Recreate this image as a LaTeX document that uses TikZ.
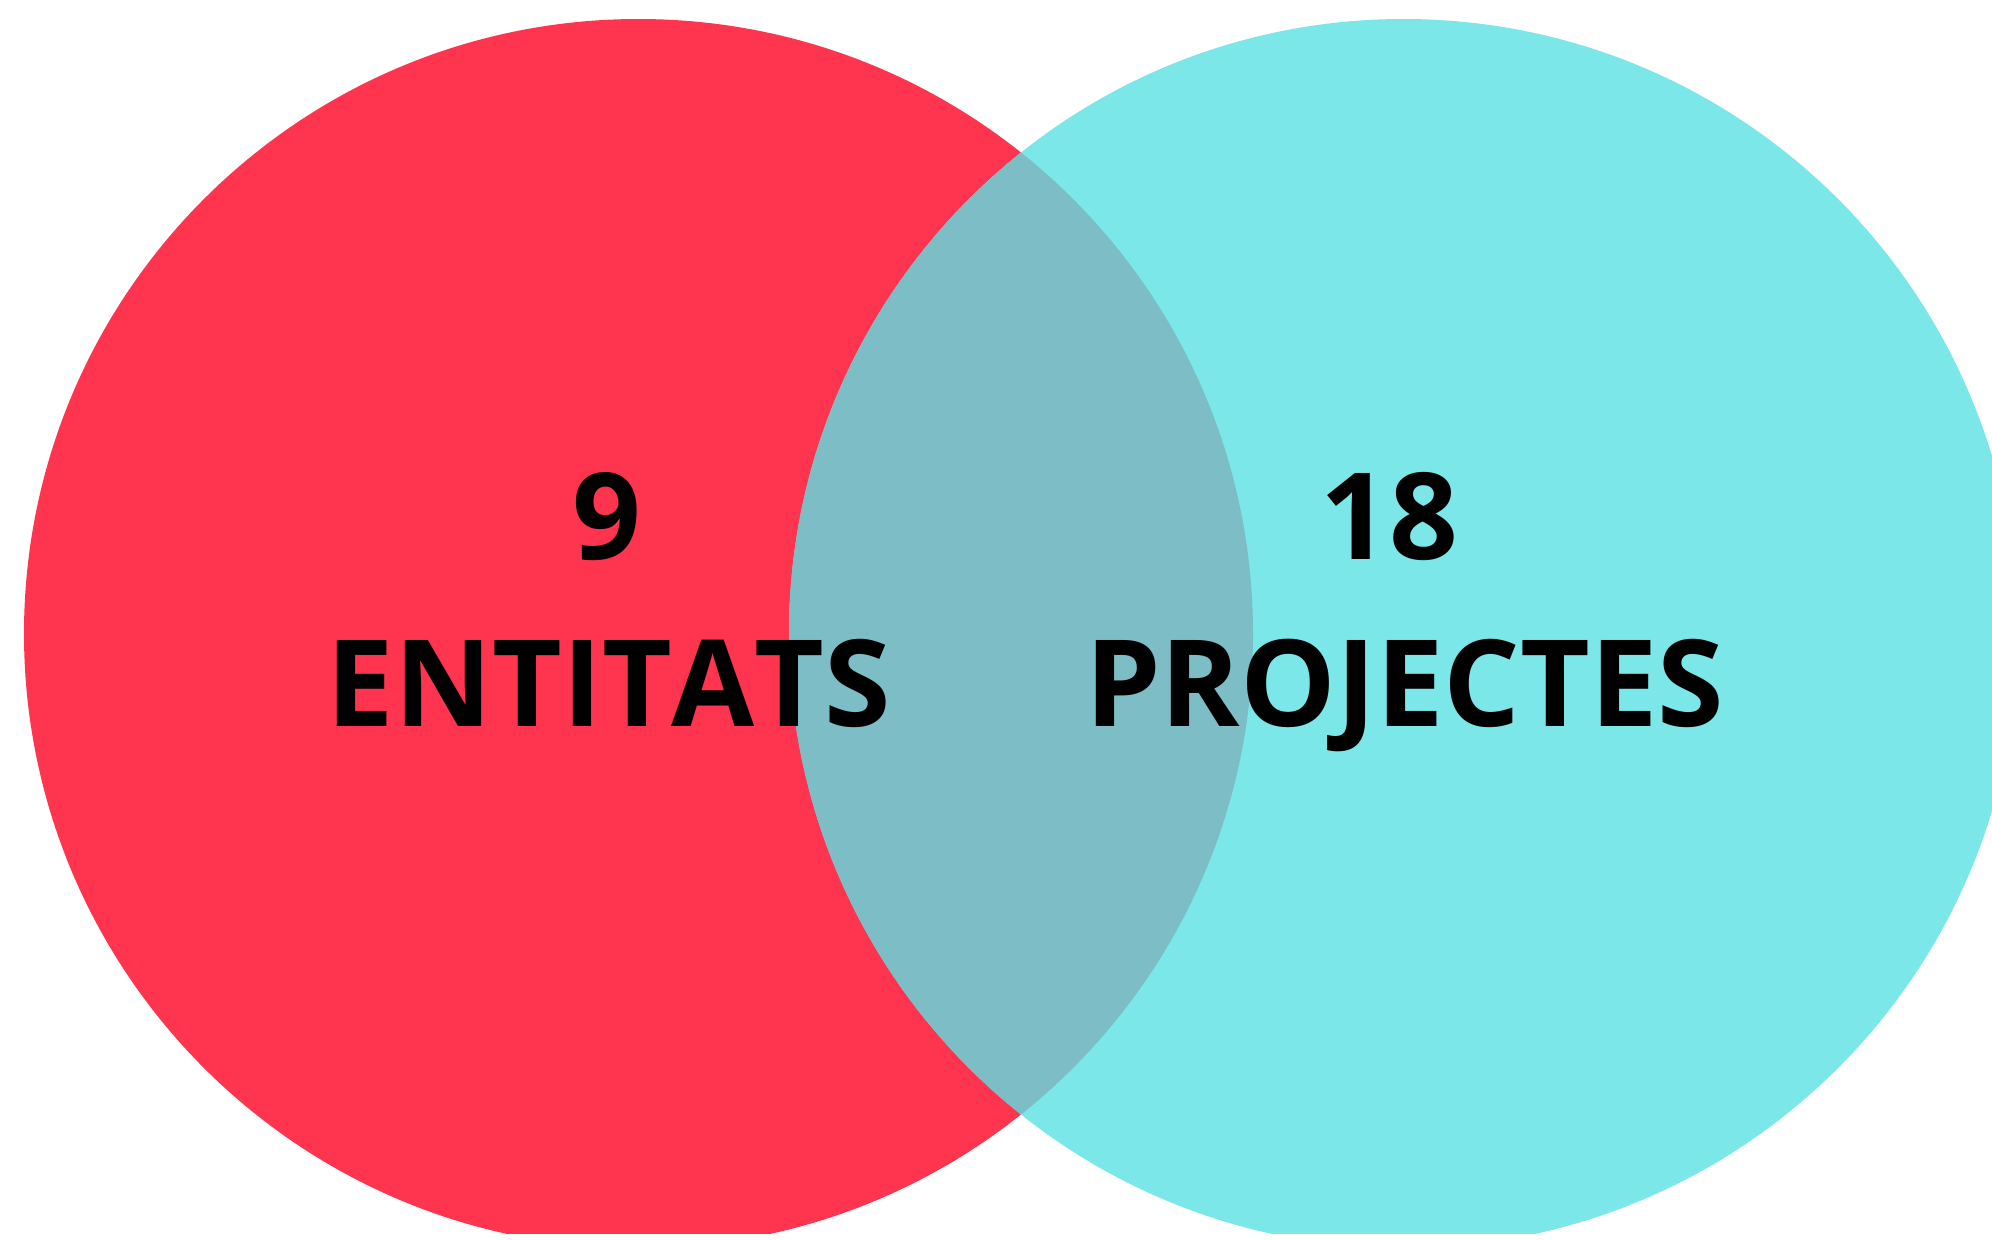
\documentclass[tikz,border=0pt]{standalone}
\usepackage{fontspec}
\setmainfont{Open Sans}[RawFeature={-kern}]
\usetikzlibrary{positioning}
\definecolor{VennRed}{HTML}{FF344F}
\definecolor{VennCyan}{HTML}{7BE7E9}
\definecolor{VennMix}{HTML}{7CBDC6}

\begin{document}
\begin{tikzpicture}[x=0.5pt,y=-0.5pt,every node/.style={font=\fontsize{60.25}{72}\selectfont\bfseries,inner sep=0pt,anchor=base}]
    \useasboundingbox (0,0) rectangle (1992,1239);
    \coordinate (entC) at (638.5,633.5);
    \coordinate (projC) at (1403.5,633.5);
    \begin{scope}
      \clip (0,0) rectangle (1992,1233);
      \fill[VennRed] (entC) circle (614.5);
      \fill[VennCyan] (projC) circle (614.5);
      \clip (entC) circle (614.5);
      \fill[VennMix] (projC) circle (614.5);
    \end{scope}
    \node (entNum) at (607,559) {9};
    \node (entLab) at (609,726) {ENTIT\kern0ptA\kern0ptTS};
    \node (projNum) at (1389,559) {18};
    \node (projLab) at (1404.5,726) {PROJECTES};
  \end{tikzpicture}
\end{document}
